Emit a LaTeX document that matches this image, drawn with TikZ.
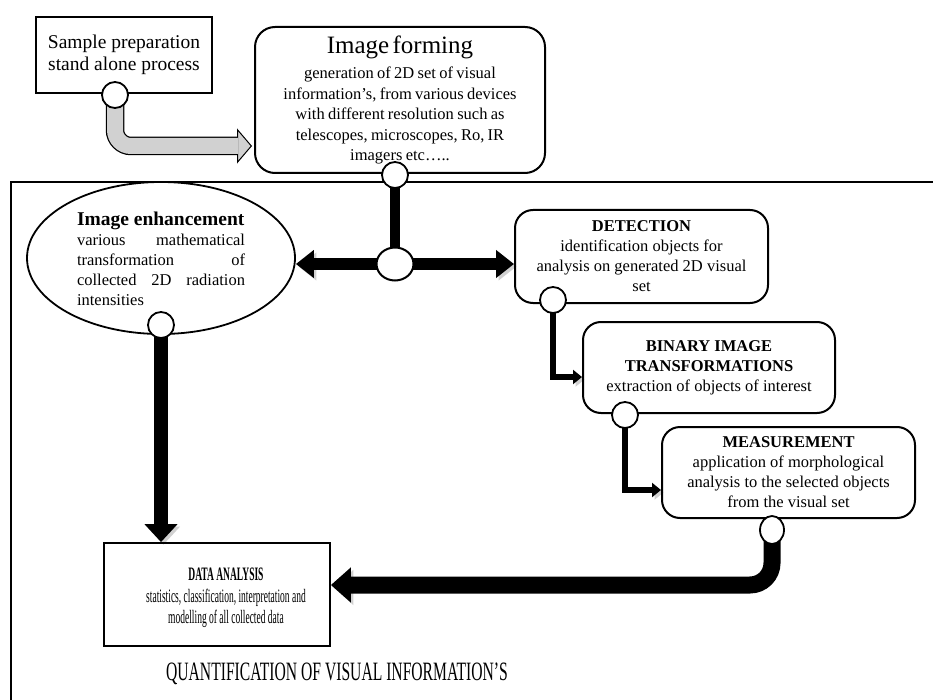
\documentclass[tikz,border=0pt]{standalone}
\usepackage{fontspec}
\setmainfont{Liberation Serif}
\usepackage{graphicx}
\usetikzlibrary{arrows.meta,shapes.geometric,calc}
\pgfdeclarelayer{bg}
\pgfsetlayers{bg,main}
\newcommand{\fsz}[2]{\fontsize{#1}{#2}\selectfont}
\begin{document}
\begin{tikzpicture}[x=1pt,y=-1pt,
 rbox/.style={draw, line width=2pt, rounded corners=18pt, align=center, inner sep=0pt},
 sbox/.style={draw, line width=1.8pt, align=center, inner sep=0pt},
 port/.style={circle, draw, line width=1.8pt, fill=white, minimum size=26pt, inner sep=0pt},
 body/.style={font=\fsz{16.5}{20}},
 shd/.style={preaction={draw=black!18, transform canvas={shift={(2.5pt,-2.5pt)}}}},
]
\useasboundingbox (0,0) rectangle (933,700);

% boxes
\node[sbox, minimum width=176pt, minimum height=76pt, font=\fsz{19.5}{22}] (spc) at (124,55) {Sample preparation\\stand alone process};
\node[rbox, rounded corners=20pt, minimum width=290pt, minimum height=146pt, text width=286pt] (imf) at (400,100)
 {{\fsz{25}{28}Image forming\par}\vspace{5pt}{\fsz{16.5}{20.5}generation of 2D set of visual\\information’s, from various devices\\with different resolution such as\\telescopes, microscopes, Ro, IR\\imagers etc…..\par}};
\node[ellipse, draw, line width=1.8pt, minimum width=268pt, minimum height=152pt, inner sep=0pt] (enh) at (161,258) {};
\node[text width=168pt, align=justify, inner sep=0pt, body] (enht) at (161,259)
 {{\fsz{19.5}{22}\bfseries Image enhancement\par}various\hfill mathematical\\transformation\hfill of\\collected\hfill 2D\hfill radiation\\intensities};
\node[ellipse, draw, line width=2pt, fill=white, minimum width=37pt, minimum height=33pt, inner sep=0pt] (hub) at (395,264) {};
\node[rbox, minimum width=253pt, minimum height=93pt, body] (det) at (641.5,256.5)
 {\textbf{DETECTION}\\identification objects for\\analysis on generated 2D visual\\set};
\node[rbox, minimum width=252pt, minimum height=91pt, body] (bin) at (709,367.5)
 {\textbf{BINARY IMAGE}\\\textbf{TRANSFORMATIONS}\\extraction of objects of interest};
\node[rbox, minimum width=253pt, minimum height=91pt, body] (mea) at (788.5,472.5)
 {\textbf{MEASUREMENT}\\application of morphological\\analysis to the selected objects\\from the visual set};
\node[sbox, minimum width=226pt, minimum height=103pt] (dat) at (217,594.5) {};
\node[inner sep=0pt] (datt) at (226,598)
 {\scalebox{0.5}[1]{\fsz{19}{21.5}\begin{tabular}{@{}c@{}}\textbf{DATA ANALYSIS}\\statistics, classification, interpretation and\\modelling of all collected data\end{tabular}}};
\node[inner sep=0pt, anchor=base] (cap) at (337,680)
 {\scalebox{0.59}[1]{\fsz{26.5}{30}QUANTIFICATION OF VISUAL INFORMATION’S}};

% ports
\node[port] (c1) at (115,95) {};
\node[port] (c2) at (395,175) {};
\node[port] (c3) at (161,325) {};
\node[port] (c4) at (553,300) {};
\node[port] (c5) at (625,415) {};
\node[ellipse, draw, line width=1.8pt, fill=white, minimum width=24pt, minimum height=28pt, inner sep=0pt] (c6) at (772,530) {};

\coordinate (gtip) at ($(imf.south west)+(-2,-28)$);
\coordinate (fTR) at (933,182);
\coordinate (fTL) at (11,182);
\coordinate (fBL) at (11,700);

\begin{pgfonlayer}{bg}
\draw[line width=2pt] (fTR) -- (fTL) -- (fBL);
% grey arrow
\draw[line width=18.5pt, black, rounded corners=16pt, shorten >=14pt] (c1.center) |- (gtip);
\draw[line width=1pt, -{Triangle[length=15pt,width=35pt,fill=black!18]}] ($(gtip)+(-16,0)$) -- (gtip);
\draw[line width=16pt, black!18, rounded corners=16pt, shorten >=14pt] (c1.center) |- (gtip);
% black arrows
\draw[line width=10pt, shd] (c2.center) -- (hub.center);
\draw[line width=12pt, shd, -{Triangle[length=18pt,width=27pt]}] (hub.center) -- (enh.east |- hub.center);
\draw[line width=12pt, shd, -{Triangle[length=18pt,width=27pt]}] (hub.center) -- (det.west |- hub.center);
\draw[line width=14pt, shd, -{Triangle[length=18pt,width=32pt]}] (c3.center) -- (c3.center |- dat.north);
\draw[line width=6pt, shd, -{Triangle[length=9pt,width=14pt]}] (c4.center) |- ($(bin.west)+(0,9.5)$);
\draw[line width=6pt, shd, -{Triangle[length=9pt,width=14pt]}] (c5.center) |- ($(mea.west)+(0,17.5)$);
\draw[line width=17pt, shd, rounded corners=22pt, -{Triangle[length=20pt,width=34pt]}] (c6.center) |- ($(dat.east)+(0,-9.5)$);
\end{pgfonlayer}
\end{tikzpicture}
\end{document}
